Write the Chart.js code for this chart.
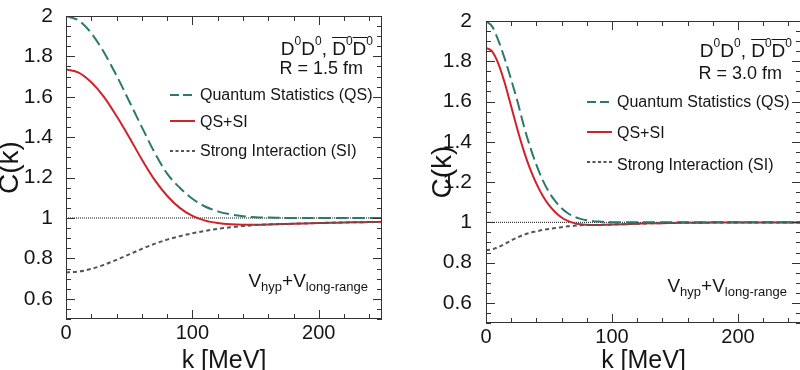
<!DOCTYPE html>
<html>
<head>
<meta charset="utf-8">
<script src="https://cdn.jsdelivr.net/npm/chart.js@4.4.0/dist/chart.umd.min.js"></script>
<style>
  html, body { margin: 0; padding: 0; background: #fff; overflow: hidden; }
  #wrap { position: relative; width: 800px; height: 370px; overflow: hidden; }
  canvas { position: absolute; top: 0; }
  #cLeft { left: 0; }
  #cRight { left: 400px; }
</style>
</head>
<body>
<div id="wrap">
  <canvas id="cLeft" width="400" height="370"></canvas>
  <canvas id="cRight" width="404" height="370"></canvas>
</div>
<script>
// correlation functions C(k) for D0D0 pairs, two source sizes

// R = 1.5 fm
var kLeft = [0, 10, 20, 30, 40, 50, 60, 70, 80, 90, 100, 110, 120, 130, 140, 150, 160, 170, 180, 190, 200, 210, 220, 230, 240, 250];
var qsLeft = [2.000, 1.978, 1.915, 1.820, 1.705, 1.578, 1.450, 1.325, 1.220, 1.150, 1.095, 1.057, 1.033, 1.018, 1.009, 1.004, 1.002, 1.001, 1.000, 1.000, 1.000, 1.000, 1.000, 1.000, 1.000, 1.000];
var qssiLeft = [1.735, 1.720, 1.672, 1.600, 1.505, 1.400, 1.290, 1.190, 1.110, 1.050, 1.010, 0.987, 0.975, 0.969, 0.967, 0.967, 0.968, 0.970, 0.971, 0.973, 0.975, 0.976, 0.978, 0.979, 0.980, 0.981];
var siLeft = [0.731, 0.735, 0.748, 0.768, 0.793, 0.820, 0.847, 0.872, 0.893, 0.910, 0.924, 0.936, 0.946, 0.954, 0.960, 0.965, 0.968, 0.970, 0.972, 0.974, 0.975, 0.977, 0.978, 0.979, 0.980, 0.981];

// R = 3.0 fm
var kRight = [0, 5, 10, 15, 20, 25, 30, 35, 40, 45, 50, 55, 60, 65, 70, 75, 80, 85, 90, 95, 100, 110, 120, 130, 140, 150, 160, 170, 180, 190, 200, 210, 220, 230, 240, 250];
var qsRight = [2.000, 1.972, 1.900, 1.810, 1.708, 1.600, 1.480, 1.375, 1.285, 1.210, 1.150, 1.105, 1.070, 1.045, 1.028, 1.017, 1.010, 1.006, 1.004, 1.002, 1.001, 1.000, 1.000, 1.000, 1.000, 1.000, 1.000, 1.000, 1.000, 1.000, 1.000, 1.000, 1.000, 1.000, 1.000, 1.000];
var qssiRight = [1.867, 1.848, 1.785, 1.690, 1.575, 1.460, 1.355, 1.265, 1.192, 1.132, 1.085, 1.050, 1.024, 1.007, 0.996, 0.990, 0.988, 0.987, 0.987, 0.988, 0.989, 0.991, 0.993, 0.995, 0.996, 0.997, 0.998, 0.998, 0.999, 0.999, 0.999, 0.999, 0.999, 0.999, 0.999, 0.999];
var siRight = [0.862, 0.866, 0.878, 0.893, 0.910, 0.925, 0.938, 0.948, 0.955, 0.962, 0.967, 0.972, 0.976, 0.980, 0.983, 0.986, 0.987, 0.987, 0.987, 0.988, 0.989, 0.991, 0.993, 0.995, 0.996, 0.997, 0.998, 0.998, 0.999, 0.999, 0.999, 0.999, 0.999, 0.999, 0.999, 0.999];

// C = 1 reference
var refK = [0, 250];
var refC = [1, 1];

// axis ticks
var xLabels = [0, 100, 200];
var yLabels = [0.6, 0.8, 1, 1.2, 1.4, 1.6, 1.8, 2];
var xMinorStep = 20;
var yMinorStep = 0.05;

var FONT = '"Liberation Sans", Arial, Helvetica, sans-serif';
var INK = '#151515';
var TEAL = '#2b7a6b';
var RED = '#d0222b';
var GREY = '#555555';

function pts(k, c) {
  return k.map(function (v, i) { return { x: v, y: c[i] }; });
}

// ROOT-like frame with inward ticks on all four sides
var rootFrame = {
  id: 'rootFrame',
  afterDatasetsDraw: function (chart) {
    var ctx = chart.ctx, a = chart.chartArea;
    var sx = chart.scales.x, sy = chart.scales.y;
    ctx.save();
    ctx.strokeStyle = '#333';
    ctx.lineWidth = 1;
    ctx.setLineDash([]);
    ctx.strokeRect(a.left + 0.5, a.top + 0.5, a.right - a.left - 1, a.bottom - a.top - 1);
    ctx.beginPath();
    var i, v, p, len;
    for (i = 0; i * xMinorStep <= sx.max + 1e-9; i++) {
      v = i * xMinorStep;
      p = Math.round(sx.getPixelForValue(v)) + 0.5;
      len = (v % 100 === 0) ? 9 : 5;
      ctx.moveTo(p, a.bottom); ctx.lineTo(p, a.bottom - len);
      ctx.moveTo(p, a.top); ctx.lineTo(p, a.top + len);
    }
    for (i = 0; sy.min + i * yMinorStep <= sy.max + 1e-9; i++) {
      v = Math.round((sy.min + i * yMinorStep) * 100) / 100;
      p = Math.round(sy.getPixelForValue(v)) + 0.5;
      len = (Math.round(v * 100) % 20 === 0) ? 9 : 5;
      ctx.moveTo(a.left, p); ctx.lineTo(a.left + len, p);
      ctx.moveTo(a.right, p); ctx.lineTo(a.right - len, p);
    }
    ctx.stroke();
    ctx.restore();
  }
};

// text made of runs: {t, size, dy, bar}
function drawRuns(ctx, runs, xRight, base) {
  var widths = runs.map(function (r) {
    ctx.font = r.size + 'px ' + FONT;
    return ctx.measureText(r.t).width;
  });
  var x = xRight - widths.reduce(function (s, w) { return s + w; }, 0);
  runs.forEach(function (r, i) {
    ctx.font = r.size + 'px ' + FONT;
    ctx.fillText(r.t, x, base + (r.dy || 0));
    if (r.bar) {
      ctx.beginPath();
      ctx.moveTo(x, base - 17.5);
      ctx.lineTo(x + widths[i] + 1, base - 17.5);
      ctx.stroke();
    }
    x += widths[i];
  });
}

function notes(cfg) {
  return {
    id: 'notes',
    afterDraw: function (chart) {
      var ctx = chart.ctx;
      ctx.save();
      ctx.fillStyle = INK;
      ctx.strokeStyle = INK;
      ctx.lineWidth = 1;
      ctx.textAlign = 'left';
      ctx.textBaseline = 'alphabetic';
      drawRuns(ctx, [
        { t: 'D', size: 19 }, { t: '0', size: 12, dy: -10 },
        { t: 'D', size: 19 }, { t: '0', size: 12, dy: -10 },
        { t: ', ', size: 19 },
        { t: 'D', size: 19, bar: true }, { t: '0', size: 12, dy: -10 },
        { t: 'D', size: 19, bar: true }, { t: '0', size: 12, dy: -10 }
      ], cfg.head[0], cfg.head[1]);
      drawRuns(ctx, [{ t: cfg.radius, size: 18 }], cfg.rad[0], cfg.rad[1]);
      drawRuns(ctx, [
        { t: 'V', size: 19 }, { t: 'hyp', size: 13, dy: 4 },
        { t: '+V', size: 19 }, { t: 'long-range', size: 13, dy: 4 }
      ], cfg.pot[0], cfg.pot[1]);

      // legend
      var items = [
        { text: 'Quantum Statistics (QS)', color: TEAL, dash: [9, 4] },
        { text: 'QS+SI', color: RED, dash: [] },
        { text: 'Strong Interaction (SI)', color: GREY, dash: [3, 2.5] }
      ];
      items.forEach(function (it, i) {
        var row = cfg.rows[i];
        ctx.beginPath();
        ctx.strokeStyle = it.color;
        ctx.lineWidth = 2;
        ctx.setLineDash(it.dash);
        ctx.moveTo(cfg.lx[0], row[0]);
        ctx.lineTo(cfg.lx[1], row[0]);
        ctx.stroke();
        ctx.setLineDash([]);
        ctx.font = '16px ' + FONT;
        ctx.fillText(it.text, cfg.lx[2], row[1]);
      });
      ctx.restore();
    }
  };
}

function panel(id, k, qs, qssi, si, cfg) {
  return new Chart(document.getElementById(id), {
    type: 'line',
    data: {
      datasets: [
        { data: pts(k, si), borderColor: GREY, borderWidth: 2, borderDash: [4, 3] },
        { data: pts(k, qs), borderColor: TEAL, borderWidth: 2, borderDash: [12, 5] },
        { data: pts(k, qssi), borderColor: RED, borderWidth: 2 },
        { data: pts(refK, refC), borderColor: '#111', borderWidth: 1, borderDash: [1, 1], cubicInterpolationMode: 'default', tension: 0 }
      ]
    },
    options: {
      responsive: false,
      animation: false,
      layout: { padding: { top: cfg.top, right: cfg.right, left: 0, bottom: 0 } },
      elements: {
        point: { radius: 0 },
        line: { cubicInterpolationMode: 'monotone', fill: false }
      },
      plugins: { legend: { display: false }, tooltip: { enabled: false } },
      scales: {
        x: {
          type: 'linear', min: 0, max: 250,
          grid: { display: false }, border: { display: false },
          afterBuildTicks: function (s) { s.ticks = xLabels.map(function (v) { return { value: v }; }); },
          afterFit: function (s) { s.height = cfg.xh; },
          ticks: { font: { family: FONT, size: 20, lineHeight: 1 }, color: INK, padding: -4, maxRotation: 0, autoSkip: false },
          title: { display: true, text: 'k [MeV]', color: INK, font: { family: FONT, size: 25, lineHeight: 1 }, padding: { top: 0, bottom: -4 } }
        },
        y: {
          type: 'linear', min: 0.5, max: 2,
          grid: { display: false }, border: { display: false },
          afterBuildTicks: function (s) { s.ticks = yLabels.map(function (v) { return { value: v }; }); },
          afterFit: function (s) { s.width = cfg.yw; },
          ticks: { font: { family: FONT, size: 21, lineHeight: 1 }, color: INK, padding: cfg.ypad, autoSkip: false,
                   callback: function (v) { return String(v); } },
          title: { display: true, text: 'C(k)', color: INK, font: { family: FONT, size: 28, lineHeight: 1 }, padding: { top: cfg.ytp, bottom: 0 } }
        }
      }
    },
    plugins: [rootFrame, notes(cfg)]
  });
}

panel('cLeft', kLeft, qsLeft, qssiLeft, siLeft, {
  top: 16, right: 18, xh: 51, yw: 66, ypad: 5, ytp: -4,
  radius: 'R = 1.5 fm',
  head: [373, 55], rad: [363, 74], pot: [368, 287],
  lx: [170, 195, 200], rows: [[95, 100], [121, 127], [151, 156]]
});

panel('cRight', kRight, qsRight, qssiRight, siRight, {
  top: 21, right: 3, xh: 47, yw: 86, ypad: 6, ytp: 29,
  radius: 'R = 3.0 fm',
  head: [392, 57], rad: [382, 79], pot: [387, 292],
  lx: [187, 212, 217], rows: [[102, 107], [132, 138], [162, 170]]
});
</script>
</body>
</html>
